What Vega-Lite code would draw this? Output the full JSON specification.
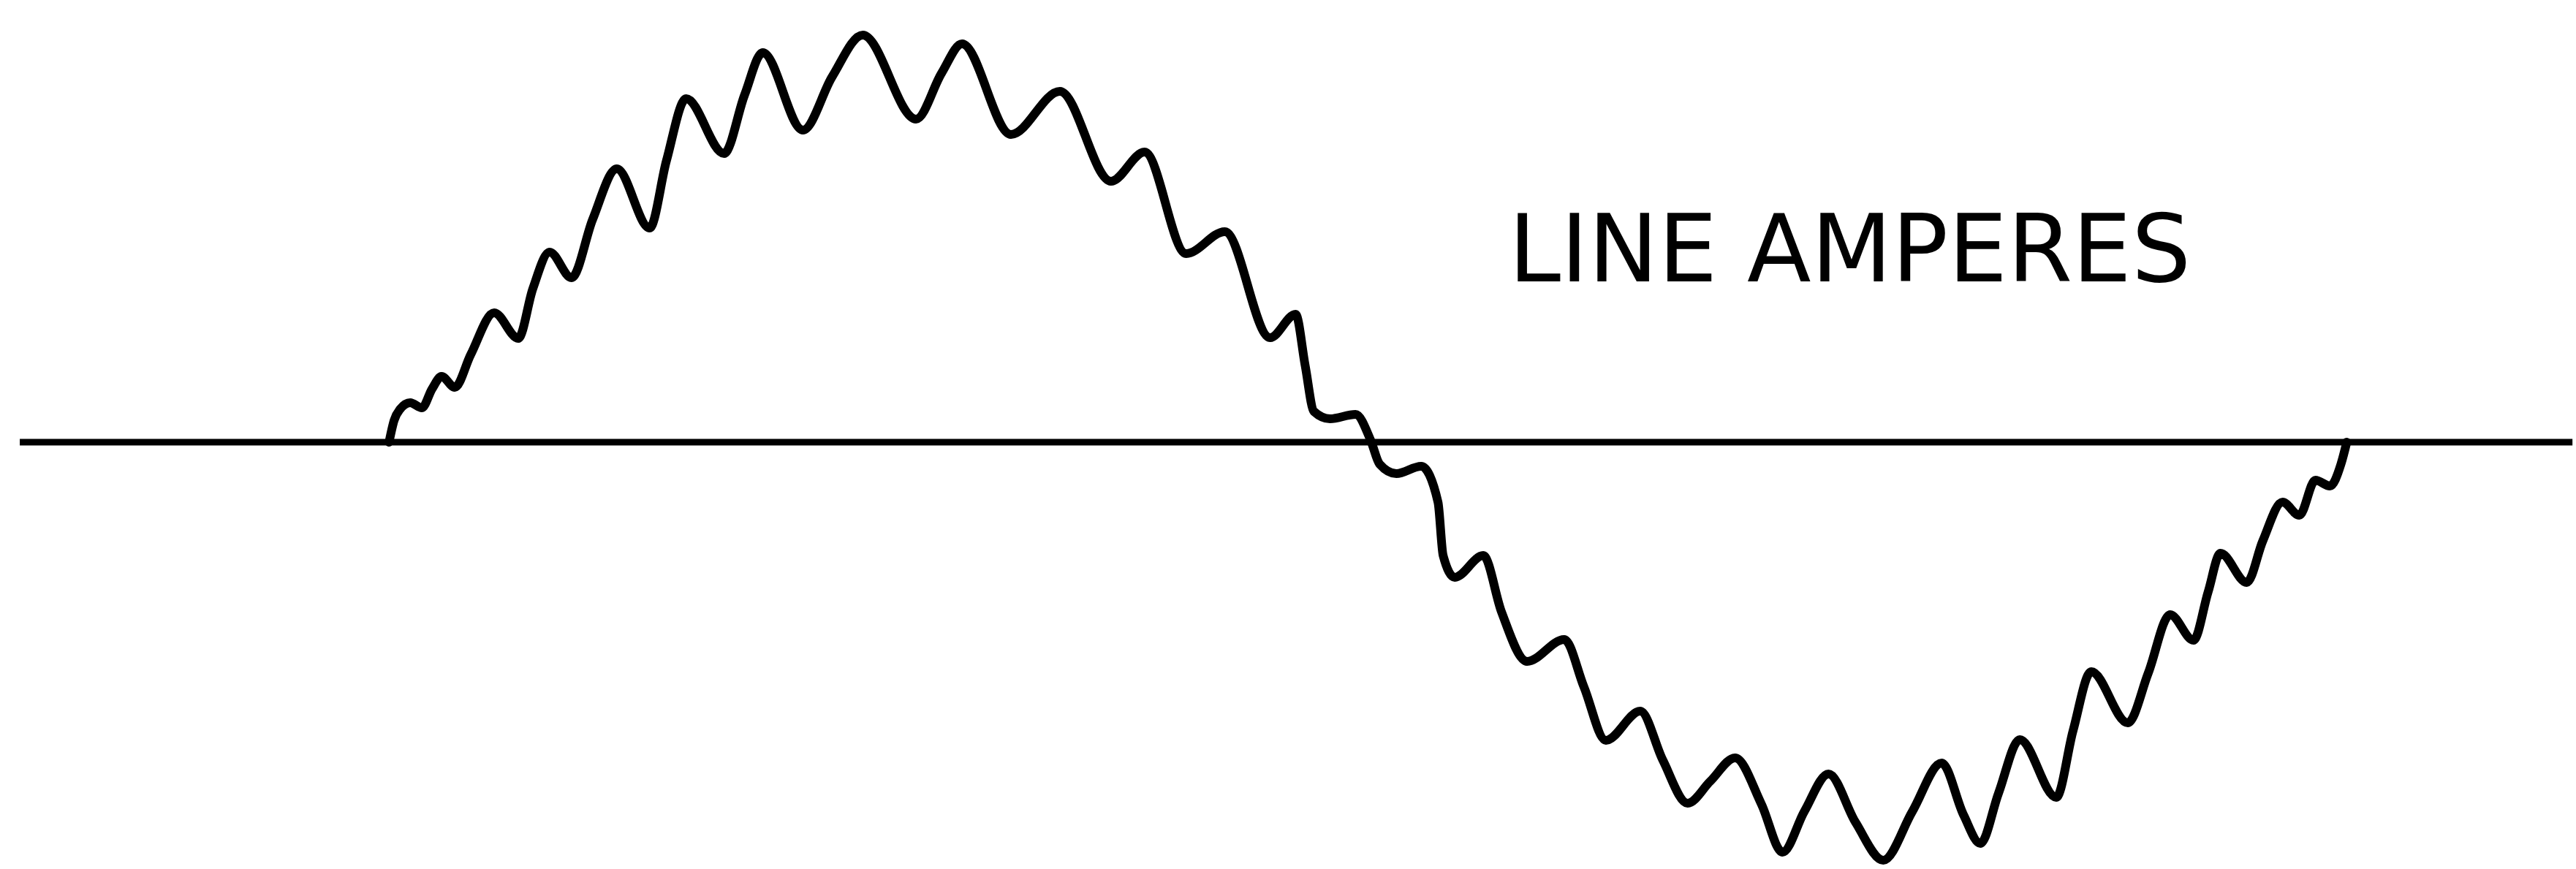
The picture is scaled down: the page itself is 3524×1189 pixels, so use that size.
{
  "$schema": "https://vega.github.io/schema/vega-lite/v6.json",
  "width": 3524,
  "height": 1189,
  "autosize": {"type": "fit", "contains": "padding"},
  "padding": 0,
  "background": "white",
  "config": {"view": {"stroke": null}},
  "datasets": {
    "baseline": [{"x": -67.9, "x2": 401.5, "y": 0}],
    "wave": [
      {"deg": 0, "amps": 0},
      {"deg": 0.94, "amps": 5.0},
      {"deg": 2.01, "amps": 7.5},
      {"deg": 3.89, "amps": 9.0},
      {"deg": 6.04, "amps": 7.83},
      {"deg": 7.92, "amps": 12.17},
      {"deg": 9.66, "amps": 15.0},
      {"deg": 12.08, "amps": 12.5},
      {"deg": 15.03, "amps": 20.0},
      {"deg": 19.33, "amps": 29.5},
      {"deg": 23.76, "amps": 23.67},
      {"deg": 26.44, "amps": 35.0},
      {"deg": 29.53, "amps": 43.33},
      {"deg": 33.56, "amps": 37.5},
      {"deg": 37.45, "amps": 50.83},
      {"deg": 41.88, "amps": 62.33},
      {"deg": 47.92, "amps": 48.83},
      {"deg": 51.01, "amps": 64.17},
      {"deg": 54.63, "amps": 78.33},
      {"deg": 61.61, "amps": 65.83},
      {"deg": 65.37, "amps": 79.17},
      {"deg": 68.72, "amps": 88.83},
      {"deg": 76.11, "amps": 71.17},
      {"deg": 81.48, "amps": 83.33},
      {"deg": 87.11, "amps": 92.83},
      {"deg": 96.91, "amps": 73.67},
      {"deg": 101.61, "amps": 84.17},
      {"deg": 105.37, "amps": 90.83},
      {"deg": 114.36, "amps": 70.17},
      {"deg": 123.36, "amps": 80.0},
      {"deg": 132.75, "amps": 59.5},
      {"deg": 138.93, "amps": 66.17},
      {"deg": 146.58, "amps": 43.0},
      {"deg": 153.69, "amps": 48.0},
      {"deg": 162.01, "amps": 23.83},
      {"deg": 166.71, "amps": 29.17},
      {"deg": 168.46, "amps": 17.5},
      {"deg": 170.07, "amps": 7.0},
      {"deg": 173.02, "amps": 5.33},
      {"deg": 177.72, "amps": 6.33},
      {"deg": 180.54, "amps": 0.33},
      {"deg": 182.15, "amps": -5.0},
      {"deg": 185.23, "amps": -7.17},
      {"deg": 189.8, "amps": -5.5},
      {"deg": 192.89, "amps": -13.67},
      {"deg": 193.83, "amps": -25.83},
      {"deg": 195.97, "amps": -30.83},
      {"deg": 201.21, "amps": -25.83},
      {"deg": 204.56, "amps": -38.67},
      {"deg": 209.26, "amps": -50.0},
      {"deg": 216.11, "amps": -45.0},
      {"deg": 219.73, "amps": -55.83},
      {"deg": 223.76, "amps": -68.0},
      {"deg": 230.07, "amps": -61.33},
      {"deg": 234.23, "amps": -72.5},
      {"deg": 238.79, "amps": -82.33},
      {"deg": 242.95, "amps": -77.33},
      {"deg": 247.52, "amps": -72.0},
      {"deg": 252.35, "amps": -82.5},
      {"deg": 256.24, "amps": -93.5},
      {"deg": 260.27, "amps": -84.17},
      {"deg": 264.7, "amps": -75.67},
      {"deg": 269.66, "amps": -86.67},
      {"deg": 274.77, "amps": -95.33},
      {"deg": 280.13, "amps": -84.17},
      {"deg": 285.5, "amps": -73.17},
      {"deg": 289.53, "amps": -85.0},
      {"deg": 292.62, "amps": -91.5},
      {"deg": 295.97, "amps": -80.0},
      {"deg": 299.87, "amps": -67.83},
      {"deg": 306.58, "amps": -81.0},
      {"deg": 309.66, "amps": -65.83},
      {"deg": 313.02, "amps": -52.33},
      {"deg": 319.73, "amps": -64.0},
      {"deg": 323.49, "amps": -52.67},
      {"deg": 327.52, "amps": -39.33},
      {"deg": 331.81, "amps": -45.17},
      {"deg": 334.5, "amps": -34.17},
      {"deg": 336.78, "amps": -25.33},
      {"deg": 341.61, "amps": -32.0},
      {"deg": 344.56, "amps": -22.5},
      {"deg": 348.19, "amps": -13.67},
      {"deg": 351.28, "amps": -16.67},
      {"deg": 354.23, "amps": -8.67},
      {"deg": 356.91, "amps": -10.0},
      {"deg": 358.93, "amps": -5.0},
      {"deg": 360.0, "amps": 0}
    ],
    "label": [{"deg": 268.6, "amps": 36.7, "text": "LINE AMPERES"}]
  },
  "layer": [
    {
      "data": {"name": "baseline"},
      "mark": {"type": "rule", "color": "black", "strokeWidth": 9},
      "encoding": {
        "x": {"field": "x", "type": "quantitative", "scale": {"domain": [-71.54, 401.48], "nice": false, "zero": false}, "axis": null},
        "x2": {"field": "x2"},
        "y": {"field": "y", "type": "quantitative", "scale": {"domain": [-97.33, 100.83], "nice": false, "zero": false}, "axis": null}
      }
    },
    {
      "data": {"name": "wave"},
      "mark": {"type": "line", "color": "black", "strokeWidth": 12, "interpolate": "monotone", "strokeCap": "round", "strokeJoin": "round"},
      "encoding": {
        "x": {"field": "deg", "type": "quantitative", "scale": {"domain": [-71.54, 401.48], "nice": false, "zero": false}, "axis": null},
        "y": {"field": "amps", "type": "quantitative", "scale": {"domain": [-97.33, 100.83], "nice": false, "zero": false}, "axis": null}
      }
    },
    {
      "data": {"name": "label"},
      "mark": {"type": "text", "color": "black", "fontSize": 128, "font": "DejaVu Sans", "align": "center", "baseline": "alphabetic"},
      "encoding": {
        "x": {"field": "deg", "type": "quantitative", "scale": {"domain": [-71.54, 401.48], "nice": false, "zero": false}, "axis": null},
        "y": {"field": "amps", "type": "quantitative", "scale": {"domain": [-97.33, 100.83], "nice": false, "zero": false}, "axis": null},
        "text": {"field": "text"}
      }
    }
  ]
}
